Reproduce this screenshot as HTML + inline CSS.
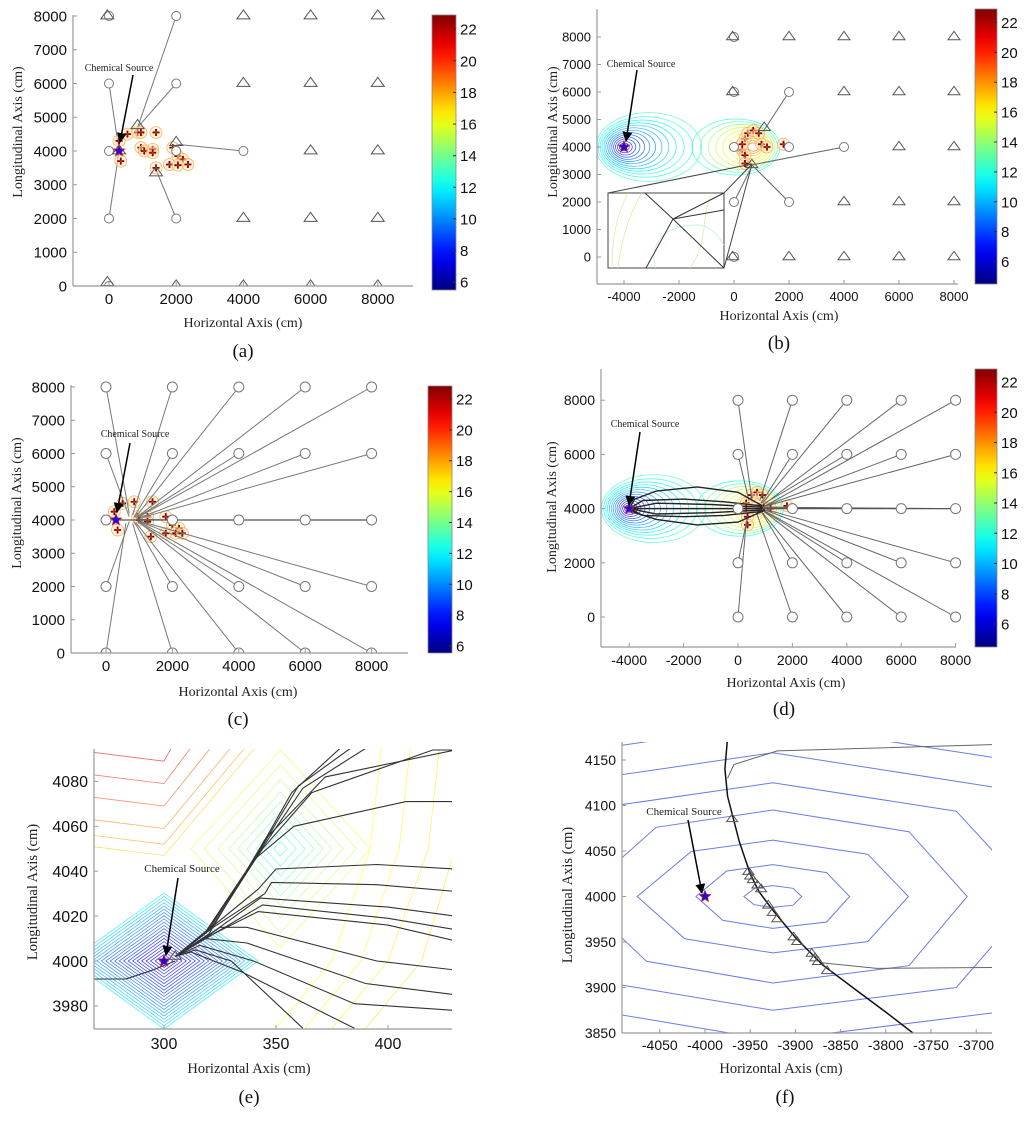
<!DOCTYPE html>
<html><head><meta charset="utf-8"><style>
html,body{margin:0;padding:0;background:#fff;}
svg{display:block;}
text{font-family:"Liberation Sans",sans-serif;}
.serif{font-family:"Liberation Serif",serif;}
</style></head><body>
<svg id="fig" xmlns="http://www.w3.org/2000/svg" width="1024" height="1121" viewBox="0 0 1024 1121">
<defs>
<marker id="arr" markerWidth="10" markerHeight="10" refX="9" refY="5" orient="auto" markerUnits="userSpaceOnUse"><path d="M0,0 L10,5 L0,10 z" fill="#000"/></marker>
</defs>
</svg>
<script>
// ---------- data ----------
const gridVals=[0,2000,4000,6000,8000];
const cbLabels=[6,8,10,12,14,16,18,20,22];
const ticksBig=[0,1000,2000,3000,4000,5000,6000,7000,8000];
const ticksXa=[0,2000,4000,6000,8000];
const ticksXb=[-4000,-2000,0,2000,4000,6000,8000];
const ticksYd=[0,2000,4000,6000,8000];
const ticksXe=[300,350,400];
const ticksYe=[3980,4000,4020,4040,4060,4080];
const ticksXf=[-4050,-4000,-3950,-3900,-3850,-3800,-3750,-3700];
const ticksYf=[3850,3900,3950,4000,4050,4100,4150];
// panel a
const aCircles=[[0,8000],[0,6000],[0,4000],[0,2000],[0,0],[2000,8000],[2000,6000],[2000,4000],[2000,2000],[4000,4000]];
const aTriangles=[[-50,8000],[4000,8000],[6000,8000],[8000,8000],[4000,6000],[6000,6000],[8000,6000],[6000,4000],[8000,4000],[4000,2000],[6000,2000],[8000,2000],[-50,100],[2000,0],[4000,0],[6000,0],[8000,0],[850,4750],[2000,4250],[1400,3350],[300,4000]];
const aLinks=[[[2000,8000],[850,4700]],[[2000,6000],[850,4700]],[[0,6000],[300,4000]],[[0,2000],[300,4000]],[[4000,4000],[2000,4200]],[[2000,2000],[1400,3450]]];
const aPlus=[[300,4300],[550,4500],[850,4550],[950,4550],[1400,4550],[950,4100],[1050,4000],[1300,4050],[1300,3950],[1900,4100],[2050,3850],[2200,3750],[1800,3600],[2050,3580],[2350,3600],[1400,3500],[350,3700]];
// panel b
const bCircles=[[0,8000],[0,6000],[0,4000],[0,2000],[0,0],[2000,6000],[2000,4000],[2000,2000],[4000,4000]];
const bTriangles=[[-50,8000],[2000,8000],[4000,8000],[6000,8000],[8000,8000],[-50,6000],[4000,6000],[6000,6000],[8000,6000],[6000,4000],[8000,4000],[4000,2000],[6000,2000],[8000,2000],[-50,0],[2000,0],[4000,0],[6000,0],[8000,0],[1100,4700],[650,3350]];
const bLinks=[[[2000,6000],[1050,4550]],[[4000,4000],[650,3350]],[[2000,2000],[650,3350]],[[0,2000],[650,3300]],[[0,4000],[650,3350]]];
const bPlus=[[400,4300],[500,4500],[700,4600],[900,4500],[300,3900],[300,4100],[1000,4100],[1200,4000],[1800,4100],[400,3700],[400,3400]];
const blueRx=[100,180,270,370,480,600,730,870,1020,1180,1350,1530,1720,1920];
const blueRy=[80,140,210,290,370,450,530,610,700,790,880,980,1100,1250];
const blueDx=[0,10,30,60,100,150,210,280,360,450,550,660,780,900];
const blueLv=[6,6.5,7,7.5,8,8.5,9,9.5,10,10.5,11,11.5,12,12.5];
const hotRx=[200,300,420,550,700,860,1030,1210,1400,1600];
const hotRy=[150,230,320,420,520,620,720,820,920,1020];
const hotDx=[0,-30,-70,-120,-180,-250,-330,-420,-520,-630];
const hotLv=[19,18,17,16.5,16,15.5,15,14,13,12];
// panel c
const cEnds=[[700,4200],[800,4150],[900,4100],[950,4100],[1000,4100],[700,4100],[850,4100],[950,4080],[1000,4060],[1000,4050],[300,4000],[900,4020],[1000,4000],[1000,4000],[1000,4000],[700,3950],[850,3950],[950,3950],[1000,3960],[1000,3970],[600,3900],[800,3900],[900,3920],[1000,3930],[1000,3950]];
const cPlus=[[250,4250],[500,4500],[850,4550],[1400,4550],[950,4100],[1000,4000],[1250,4100],[1250,3950],[1800,4100],[2000,3850],[2200,3750],[1800,3600],[2100,3600],[2300,3600],[1350,3500],[350,3700]];
// panel d
const dEnds=[[500,4400],[800,4300],[900,4200],[950,4150],[1000,4100],[400,4300],[850,4200],[900,4150],[1000,4100],[1050,4100],[0,4000],[900,4050],[1000,4050],[1050,4050],[1100,4050],[350,3700],[850,3900],[900,3950],[1000,3950],[1050,3960],[300,3500],[700,3800],[900,3850],[950,3900],[1000,3900]];
const dPlus=[[500,4500],[700,4600],[900,4500],[300,4200],[300,4000],[950,4050],[1200,4000],[1800,4100],[350,3700],[350,3400]];
const dLoops=[
 [[900,4100],[0,4600],[-1500,4800],[-3000,4650],[-3800,4350],[-4000,4000]],
 [[1000,3950],[0,3500],[-1500,3400],[-3000,3600],[-3800,3850],[-4000,4000]],
 [[900,4100],[-500,4250],[-2000,4350],[-3500,4300],[-4000,4000]],
 [[900,4050],[-1000,4150],[-3000,4200],[-4000,4000]],
 [[900,4000],[-2000,4000],[-4000,4000]],
 [[900,3950],[-1000,3850],[-3000,3800],[-4000,4000]],
 [[900,3900],[-500,3750],[-2000,3700],[-3500,3750],[-4000,4000]]];
// panel e
const eBlueR=[2,4,6,8,10,12,14,16,18,20,22,24,26,28,30,32,34,36,38,40,42];
const eBlueLv=[6,6.2,6.4,6.6,6.8,7,7.2,7.4,7.6,7.8,8,8.2,8.5,8.8,9.1,9.4,9.7,10,10.3,10.6,11];
const eGreenR=[3,7,11,15,19,23,28,34,40];
const eGreenLv=[11.5,12,12.5,13,13.5,14,14.5,15,15.5];
const eHotL=[4092,4082,4072,4062,4055,4050];
const eHotLv=[21,20,19.3,18.5,17.8,17];
const eTracks=[
 [[305,4002],[318,4012],[340,4045],[357,4075],[380,4096]],
 [[305,4002],[320,4014],[342,4048],[360,4078],[385,4096]],
 [[305,4002],[322,4016],[345,4052],[362,4077],[392,4096]],
 [[305,4002],[318,4012],[344,4050],[366,4075],[420,4094],[430,4094]],
 [[305,4002],[318,4012],[340,4045],[358,4060],[408,4071],[430,4071]],
 [[305,4002],[320,4012],[345,4054],[372,4082],[430,4094]],
 [[305,4002],[320,4014],[342,4032],[350,4041],[395,4043],[430,4041]],
 [[305,4002],[322,4015],[345,4030],[348,4035],[395,4034],[430,4031]],
 [[305,4002],[322,4013],[343,4028],[400,4024],[430,4020]],
 [[305,4002],[322,4012],[344,4025],[400,4019],[430,4014]],
 [[305,4002],[320,4011],[342,4022],[400,4016],[430,4009]],
 [[305,4002],[318,4010],[325,4015],[337,4015],[395,4000],[430,3996]],
 [[305,4002],[318,4010],[337,4008],[390,3990],[430,3985]],
 [[305,4002],[316,4007],[340,4000],[385,3981],[430,3978]],
 [[305,4002],[314,4005],[330,4000],[362,3970]],
 [[305,4002],[312,4004],[335,3995],[385,3970]],
 [[268,3992],[283,3992],[295,3996],[305,4000]]];
// panel f
const fRx=[32,85,150,215,290,365,445,530,620];
const fRy=[12,35,62,95,125,158,190,225,260];
const fCurve=[[-3975,4175],[-3978,4140],[-3975,4110],[-3962,4060],[-3950,4025],[-3940,4005],[-3925,3985],[-3900,3955],[-3870,3925],[-3830,3895],[-3800,3873],[-3770,3850]];
const fTri=[[-3970,4085],[-3952,4027],[-3950,4022],[-3947,4018],[-3942,4012],[-3938,4008],[-3930,3990],[-3925,3982],[-3920,3975],[-3902,3955],[-3898,3950],[-3882,3937],[-3878,3932],[-3875,3928],[-3865,3918]];
const fGray1=[[-3975,4130],[-3968,4145],[-3920,4160],[-3680,4167]];
const fGray2=[[-3870,3927],[-3810,3921],[-3680,3922]];

// ---------- helpers ----------
const NS='http://www.w3.org/2000/svg';
const svg=document.getElementById('fig');
function mk(tag,attrs,parent){const e=document.createElementNS(NS,tag);for(const k in attrs)e.setAttribute(k,attrs[k]);(parent||svg).appendChild(e);return e;}
function jet(t){t=Math.max(0,Math.min(1,t));const c=v=>Math.round(255*Math.max(0,Math.min(1,v)));return `rgb(${c(1.5-Math.abs(4*t-3))},${c(1.5-Math.abs(4*t-2))},${c(1.5-Math.abs(4*t-1))})`;}
function lvColor(v){return jet((v-4.5)/(22.9-4.5));}

let clipN=0;
function panel(o){
  const g=mk('g',{});
  
  
  const X=v=>o.xp0+(v-o.xv0)*o.xs;
  const Y=v=>o.yp0-(v-o.yv0)*o.ys;
  const id='clip'+(clipN++);
  const pad=o.pad||0;
  const cp=mk('clipPath',{id:id},g);
  mk('rect',{x:o.left,y:o.top-pad,width:o.right-o.left+pad,height:o.bottom-o.top+pad},cp);
  const plot=mk('g',{'clip-path':`url(#${id})`},g);
  
  
  const ax=mk('g',{},g);
  
  
  const yl=mk('line',{x1:o.left,y1:o.top,x2:o.left,y2:o.bottom,stroke:'#999','stroke-width':1.2},ax);
  
  
  const xl=mk('line',{x1:o.left,y1:o.bottom,x2:o.right,y2:o.bottom,stroke:'#999','stroke-width':1.2},ax);
  
  
  o.xt.forEach(v=>{
    mk('line',{x1:X(v),y1:o.bottom,x2:X(v),y2:o.bottom-4,stroke:'#999'},ax);
    const t=mk('text',{x:X(v),y:o.xlY,'text-anchor':'middle','font-size':o.fs,fill:'#111'},ax);
    t.textContent=String(v);
    
    
  });
  o.yt.forEach(v=>{
    mk('line',{x1:o.left,y1:Y(v),x2:o.left+4,y2:Y(v),stroke:'#999'},ax);
    const t=mk('text',{x:o.left-6,y:Y(v)+o.fs*0.36,'text-anchor':'end','font-size':o.fs,fill:'#111'},ax);
    t.textContent=String(v);
    
    
  });
  const xt=mk('text',{x:o.xtX,y:o.xtY,'text-anchor':'middle','font-size':o.tfs,fill:'#222',class:'serif'},ax);
  xt.textContent='Horizontal Axis (cm)';
  
  
  const ytt=mk('text',{x:0,y:0,'text-anchor':'middle','font-size':o.tfs,fill:'#222',class:'serif',transform:`translate(${o.ytX},${o.ytY}) rotate(-90)`},ax);
  ytt.textContent='Longitudinal Axis (cm)';
  
  
  const cap=mk('text',{x:o.capX,y:o.capY,'text-anchor':'middle','font-size':19,fill:'#111',class:'serif'},g);
  cap.textContent=o.cap;
  
  
  if(o.cb){
    const c=o.cb;
    const cg=mk('g',{},g);
    
    
    const gid='cbg'+id;
    const lg=mk('linearGradient',{id:gid,x1:0,y1:1,x2:0,y2:0},cg);
    for(let i=0;i<=20;i++){mk('stop',{offset:i/20,'stop-color':jet(i/20)},lg);}
    mk('rect',{x:c.x,y:c.top,width:c.w,height:c.bottom-c.top,fill:`url(#${gid})`,stroke:'#888','stroke-width':0.8},cg);
    const CY=v=>c.bottom-(v-c.vmin)/(c.vmax-c.vmin)*(c.bottom-c.top);
    cbLabels.forEach(v=>{
      mk('line',{x1:c.x+c.w-3,y1:CY(v),x2:c.x+c.w,y2:CY(v),stroke:'#333'},cg);
      const t=mk('text',{x:c.x+c.w+4,y:CY(v)+5.5,'font-size':15,fill:'#111'},cg);
      t.textContent=v;
      
      
    });
  }
  return {g,plot,X,Y,o};
}
function pts(P,arr){return arr.map(p=>P.X(p[0]).toFixed(1)+','+P.Y(p[1]).toFixed(1)).join(' ');}
function line(P,arr,color,w,name,op){const e=mk('polyline',{points:pts(P,arr),fill:'none',stroke:color,'stroke-width':w,'stroke-opacity':op||1},P.plot);return e;}
function circ(P,p,r){const e=mk('circle',{cx:P.X(p[0]),cy:P.Y(p[1]),r:r,fill:'#fff',stroke:'#777','stroke-width':1},P.plot);}
function tri(P,p,s){const x=P.X(p[0]),y=P.Y(p[1]);const e=mk('polygon',{points:`${x-s},${y+s*0.45} ${x+s},${y+s*0.45} ${x},${y-s*0.95}`,fill:'none',stroke:'#555','stroke-width':1},P.plot);}
function plus(P,p){const x=P.X(p[0]),y=P.Y(p[1]);
  const h=mk('circle',{cx:x,cy:y,r:6,fill:'#fde6c4','fill-opacity':0.5,stroke:'#f4b040','stroke-width':0.7},P.plot);
  const c=mk('path',{d:`M${x-3.5},${y}H${x+3.5}M${x},${y-3.5}V${y+3.5}`,stroke:'#7a0000','stroke-width':1.8},P.plot);
  mk('circle',{cx:x,cy:y,r:1.3,fill:'#e02000'},P.plot);}
function star(P,p,r){const x=P.X(p[0]),y=P.Y(p[1]);let d='';for(let i=0;i<10;i++){const a=-Math.PI/2+i*Math.PI/5;const rr=i%2?r*0.45:r;d+=(i?'L':'M')+(x+rr*Math.cos(a)).toFixed(1)+','+(y+rr*Math.sin(a)).toFixed(1);}
  const e=mk('path',{d:d+'Z',fill:'#1010e0',stroke:'#d02040','stroke-width':0.8},P.g);}
function label(P,tx,ty,ax1,ay1,ax2,ay2,fs){
  const t=mk('text',{x:tx,y:ty,'text-anchor':'middle','font-size':fs,fill:'#222',class:'serif'},P.g);
  t.textContent='Chemical Source';
  
  
  const a=mk('line',{x1:ax1,y1:ay1,x2:ax2,y2:ay2,stroke:'#000','stroke-width':1.5,'marker-end':'url(#arr)'},P.g);
  
  }
function rings(P,cx,cy,rx,ry,dx,lv,name){
  for(let i=rx.length-1;i>=0;i--){
    const e=mk('ellipse',{cx:P.X(cx+dx[i]),cy:P.Y(cy),rx:rx[i]*P.o.xs,ry:ry[i]*P.o.ys,fill:'none',stroke:lvColor(lv[i]),'stroke-width':0.8,'stroke-opacity':0.75},P.plot);
    
    
  }}

// ---------- panel (a) ----------
const A=panel({name:'panel-a',xv0:0,xp0:109,xs:0.0336,yv0:0,yp0:286,ys:0.03375,left:73,right:413,top:15,bottom:286,pad:10,
 xt:ticksXa,yt:ticksBig,fs:15,xlY:304,tfs:14,xtX:243,xtY:327,ytX:22,ytY:132,cap:'(a)',capX:243,capY:357,
 cb:{x:432,w:24,top:15,bottom:290,vmin:5.5,vmax:22.9}});
aLinks.forEach(l=>line(A,l,'#777',1,'sensor-path'));
aPlus.forEach(p=>plus(A,p));
aCircles.forEach(p=>circ(A,p,4.5));
aTriangles.forEach(p=>tri(A,p,6.5));
star(A,[300,4000],6);
label(A,119,71,133,75,120,142,10);

// ---------- panel (b) ----------
const B=panel({name:'panel-b',xv0:0,xp0:734,xs:0.0275,yv0:0,yp0:257,ys:0.0275,left:597,right:958,top:9,bottom:284,pad:10,
 xt:ticksXb,yt:ticksBig,fs:13,xlY:301,tfs:14,xtX:779,xtY:320,ytX:557,ytY:132,cap:'(b)',capX:779,capY:349,
 cb:{x:975,w:22,top:9,bottom:284,vmin:4.5,vmax:22.9}});
rings(B,-4000,4000,blueRx,blueRy,blueDx,blueLv,'low-concentration-contour');
rings(B,700,4000,hotRx,hotRy,hotDx,hotLv,'high-concentration-contour');
bLinks.forEach(l=>line(B,l,'#666',1,'sensor-path'));
bPlus.forEach(p=>plus(B,p));
bCircles.forEach(p=>circ(B,p,4.5));
bTriangles.forEach(p=>tri(B,p,6));
{const ig=mk('g',{},B.g);
 mk('rect',{x:608,y:193,width:116,height:75,fill:'#fff',stroke:'#444','stroke-width':1},ig);
 [[612,612,616,628],[618,622,628,642],[690,710,700,712]].forEach(c=>mk('path',{d:`M${c[0]},268 C${c[1]},240 ${c[2]},215 ${c[3]},193`,fill:'none',stroke:'#d8ec9c','stroke-width':0.7},ig));
 mk('path',{d:'M655,268 C650,240 665,225 700,225 C715,228 720,240 724,245',fill:'none',stroke:'#bfeede','stroke-width':0.7},ig);
 [[645,193,673,219],[673,219,724,268],[673,219,724,193],[673,219,724,210],[673,219,646,268]].forEach(c=>mk('line',{x1:c[0],y1:c[1],x2:c[2],y2:c[3],stroke:'#333','stroke-width':1},ig));
 [[608,193,752,164],[724,193,752,164],[724,268,752,164]].forEach(c=>mk('line',{x1:c[0],y1:c[1],x2:c[2],y2:c[3],stroke:'#444','stroke-width':1},ig));}
star(B,[-4000,4000],6);
label(B,641,67,637,70,626,141,10);

// ---------- panel (c) ----------
const C=panel({name:'panel-c',xv0:0,xp0:106,xs:0.0332,yv0:0,yp0:653,ys:0.03325,left:71,right:408,top:385,bottom:653,pad:10,
 xt:ticksXa,yt:ticksBig,fs:15,xlY:671,tfs:14,xtX:238,xtY:696,ytX:21,ytY:503,cap:'(c)',capX:238,capY:725,
 cb:{x:428,w:24,top:386,bottom:653,vmin:5.55,vmax:22.84}});
cPlus.forEach(p=>plus(C,p));
const cStarts=[];gridVals.slice().reverse().forEach(gy=>gridVals.forEach(gx=>cStarts.push([gx,gy])));
cStarts.forEach((s,i)=>line(C,[s,cEnds[i]],'#777',1,'sensor-path'));
line(C,[[300,4000],[8000,4000]],'#555',1.3,'converged-path');
cStarts.forEach(p=>circ(C,p,5));
star(C,[300,4000],6);
label(C,135,437,130,443,117,512,10);

// ---------- panel (d) ----------
const D=panel({name:'panel-d',xv0:0,xp0:738,xs:0.0272,yv0:0,yp0:617,ys:0.0271,left:601,right:956,top:369,bottom:647,pad:10,
 xt:ticksXb,yt:ticksYd,fs:14,xlY:665,tfs:14,xtX:786,xtY:687,ytX:556,ytY:507,cap:'(d)',capX:784,capY:715,
 cb:{x:975,w:22,top:369,bottom:647,vmin:4.48,vmax:22.86}});
rings(D,-4000,4000,blueRx,blueRy,blueDx,blueLv,'low-concentration-contour');
rings(D,700,4000,hotRx,hotRy,hotDx,hotLv,'high-concentration-contour');
dPlus.forEach(p=>plus(D,p));
cStarts.forEach((s,i)=>line(D,[s,dEnds[i]],'#666',1,'sensor-path'));
line(D,[[-4000,4000],[8000,4000]],'#555',1.3,'converged-path');
dLoops.forEach(l=>line(D,l,'#222',1.4,'return-path'));
cStarts.forEach(p=>circ(D,p,5));
star(D,[-4000,4000],6);
label(D,645,427,640,432,629,505,10);

// ---------- panel (e) ----------
const E=panel({name:'panel-e',xv0:300,xp0:164,xs:2.24,yv0:4000,yp0:961,ys:2.245,left:94,right:452,top:749,bottom:1029,
 xt:ticksXe,yt:ticksYe,fs:16,xlY:1049,tfs:14.5,xtX:249,xtY:1073,ytX:37,ytY:892,cap:'(e)',capX:249,capY:1103});
[[375,392],[388,405],[400,418],[415,430]].forEach((c,i)=>line(E,[[c[0]-25,3970],[c[0],4000],[c[1],4050],[c[1]+5,4095]],lvColor(16+i*0.2),0.8,'contour-line',0.6));
for(let i=eGreenR.length-1;i>=0;i--){const r=eGreenR[i];const cx=E.X(352),cy=E.Y(4050),rx=r*E.o.xs,ry=r*1.1*E.o.ys;
 const e=mk('polygon',{points:`${cx-rx},${cy} ${cx},${cy-ry} ${cx+rx},${cy} ${cx},${cy+ry}`,fill:'#fff',stroke:lvColor(eGreenLv[i]),'stroke-width':0.8,'stroke-opacity':0.55},E.plot);
 }
eHotL.forEach((L,i)=>line(E,[[268,L+1],[300,L-3],[300+(4097-L)*0.9,4097]],lvColor(eHotLv[i]),0.8,'contour-line',0.6));
for(let i=eBlueR.length-1;i>=0;i--){const r=eBlueR[i];const cx=E.X(300),cy=E.Y(4000),rx=r*E.o.xs,ry=r*0.72*E.o.ys;
 const e=mk('polygon',{points:`${cx-rx},${cy} ${cx},${cy-ry} ${cx+rx},${cy} ${cx},${cy+ry}`,fill:'#fff',stroke:lvColor(eBlueLv[i]),'stroke-width':0.8,'stroke-opacity':0.7},E.plot);
 }
eTracks.forEach(l=>line(E,l,'#333',1.1,'sensor-track'));
tri(E,[305,4002],6);
star(E,[300,4000],6);
label(E,182,872,178,878,166,955,11);

// ---------- panel (f) ----------
const F=panel({name:'panel-f',xv0:-4000,xp0:705,xs:0.904,yv0:4150,yp0:760,ys:0.91,left:622,right:992,top:742,bottom:1033,
 xt:ticksXf,yt:ticksYf,fs:14,xlY:1050,tfs:14.5,xtX:781,xtY:1073,ytX:572,ytY:895,cap:'(f)',capX:785,capY:1103});
const tmpl=[[1,0],[.7,.75],[0,1],[-.6,.8],[-1,0],[-.65,-.75],[0,-1],[.7,-.8]];
fRx.forEach((rx,i)=>{const e=mk('polygon',{points:pts(F,tmpl.map(t=>[-3925+t[0]*rx,4000+t[1]*fRy[i]])),fill:'none',stroke:'#6a7cea','stroke-width':1},F.plot);
 });
line(F,fGray1,'#666',1,'sensor-path');
line(F,fGray2,'#666',1,'sensor-path');
line(F,fCurve,'#111',1.5,'sensor-track');
fTri.forEach(p=>tri(F,p,5.5));
star(F,[-4000,4000],6);
label(F,684,815,688,820,702,893,11);
</script>
</body></html>
